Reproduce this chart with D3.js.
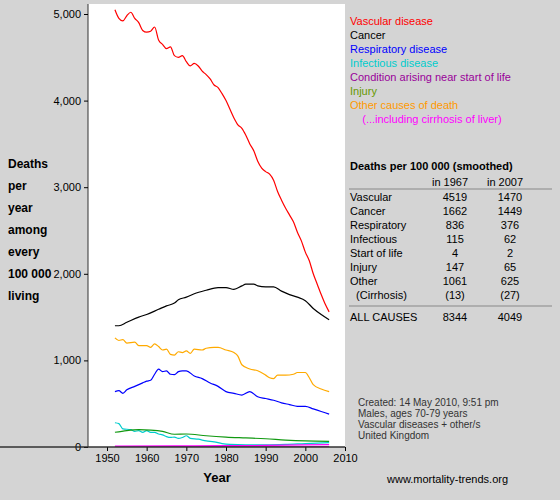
<!DOCTYPE html>
<html><head><meta charset="utf-8">
<script src="https://cdn.jsdelivr.net/npm/d3@7"></script>
<style>body{margin:0;background:#d4d4d4}svg{font-family:"Liberation Sans",Arial,sans-serif}</style>
</head><body><div id="chart"></div>
<script>
// datos (muertes por 100 000)
const vascular = [[1952,5050],[1953,4950],[1954,4920],[1955,4980],[1956,5020],[1957,4950],[1958,4900],[1959,4810],[1960,4790],[1961,4800],[1962,4850],[1963,4700],[1964,4650],[1965,4600],[1966,4620],[1967,4519],[1968,4500],[1969,4520],[1970,4450],[1971,4400],[1972,4430],[1973,4400],[1974,4340],[1975,4300],[1976,4250],[1977,4180],[1978,4150],[1979,4080],[1980,4000],[1981,3900],[1982,3800],[1983,3720],[1984,3680],[1985,3600],[1986,3500],[1987,3420],[1988,3300],[1989,3220],[1990,3180],[1991,3150],[1992,3080],[1993,2950],[1994,2850],[1995,2760],[1996,2680],[1997,2600],[1998,2480],[1999,2380],[2000,2250],[2001,2150],[2002,2000],[2003,1880],[2004,1760],[2005,1650],[2006,1560]];
const cancer = [[1952,1400],[1953,1400],[1955,1440],[1958,1500],[1960,1530],[1963,1590],[1965,1630],[1967,1662],[1968,1700],[1970,1730],[1972,1770],[1975,1810],[1978,1840],[1980,1840],[1982,1820],[1984,1860],[1985,1880],[1987,1880],[1988,1860],[1990,1850],[1992,1850],[1994,1800],[1996,1760],[1998,1730],[2000,1690],[2002,1600],[2004,1530],[2006,1470]];
const other = [[1952,1260],[1953,1230],[1954,1240],[1955,1200],[1957,1210],[1958,1170],[1960,1170],[1961,1150],[1962,1190],[1963,1160],[1964,1120],[1965,1130],[1966,1070],[1967,1061],[1968,1100],[1969,1090],[1970,1110],[1971,1080],[1972,1130],[1974,1120],[1975,1140],[1977,1150],[1978,1150],[1980,1120],[1982,1090],[1983,1050],[1984,950],[1986,900],[1988,880],[1990,830],[1991,800],[1992,790],[1993,830],[1995,830],[1997,840],[1998,860],[2000,860],[2001,800],[2002,720],[2004,670],[2006,640]];
const respiratory = [[1952,640],[1953,650],[1954,620],[1955,660],[1957,700],[1959,740],[1960,760],[1961,770],[1962,840],[1963,900],[1964,870],[1965,880],[1966,840],[1967,836],[1968,870],[1969,880],[1970,880],[1972,820],[1974,790],[1976,740],[1978,700],[1980,640],[1982,620],[1984,600],[1986,640],[1988,580],[1990,560],[1992,540],[1994,510],[1996,490],[1998,470],[2000,470],[2002,440],[2004,410],[2006,380]];
const infectious = [[1952,280],[1953,270],[1954,210],[1956,200],[1957,180],[1958,190],[1959,170],[1960,190],[1961,170],[1962,170],[1963,150],[1964,140],[1965,120],[1966,110],[1967,115],[1968,100],[1969,110],[1970,130],[1971,100],[1973,90],[1975,70],[1977,60],[1979,40],[1981,30],[1985,25],[1990,25],[1995,30],[2000,40],[2006,50]];
const injury = [[1952,170],[1955,190],[1958,200],[1961,195],[1964,180],[1967,147],[1970,150],[1975,130],[1980,115],[1985,105],[1990,95],[1995,80],[2000,70],[2006,65]];
const startLife = [[1952,4],[1967,4],[2006,2]];
const cirrhosis = [[1952,10],[1967,13],[1980,15],[1990,18],[2000,25],[2006,27]];

const series = [
  {name:"Vascular disease", color:"#ff0000", data:vascular},
  {name:"Cancer", color:"#000000", data:cancer},
  {name:"Respiratory disease", color:"#0000ff", data:respiratory},
  {name:"Infectious disease", color:"#00cccc", data:infectious},
  {name:"Condition arising near start of life", color:"#990099", data:startLife},
  {name:"Injury", color:"#669900", data:injury, line:"#119911"},
  {name:"Other causes of death", color:"#ff9900", data:other, line:"#ffaa00"},
  {name:"    (...including cirrhosis of liver)", color:"#ff00ff", data:cirrhosis}
];
const drawOrder = [0,6,1,2,3,5,4,7];

const tabla = [["Vascular","4519","1470"],["Cancer","1662","1449"],["Respiratory","836","376"],["Infectious","115","62"],["Start of life","4","2"],["Injury","147","65"],["Other","1061","625"],["  (Cirrhosis)","(13)","(27)"]];
const totales = ["ALL CAUSES","8344","4049"];
const yLabel = ["Deaths","per","year","among","every","100 000","living"];
const notas = ["Created: 14 May 2010, 9:51 pm","Males, ages 70-79 years","Vascular diseases + other/s","United Kingdom"];

const svg = d3.select("#chart").append("svg").attr("width",560).attr("height",500);

const x = d3.scaleLinear().domain([1950,2010]).range([107,345]);
const y = d3.scaleLinear().domain([0,5000]).range([447,14]);

svg.append("rect").attr("x",88).attr("y",4).attr("width",257).attr("height",443).attr("fill","#fff");

const plot = svg.append("g");
plot.append("clipPath").attr("id","c").append("rect").attr("x",88).attr("y",4).attr("width",257).attr("height",443);
const line = d3.line().x(d=>x(d[0])).y(d=>y(d[1])).curve(d3.curveMonotoneX);
drawOrder.forEach(i=>{
  const s = series[i];
  plot.append("path").attr("clip-path","url(#c)").attr("d",line(s.data))
    .attr("fill","none").attr("stroke",s.line||s.color).attr("stroke-width",1.2);
});

// ejes
const ax = svg.append("g").attr("transform","translate(0,447)")
  .call(d3.axisBottom(x).tickValues(d3.range(1950,2011,10)).tickFormat(d3.format("d")).tickSize(4));
const ay = svg.append("g").attr("transform","translate(88,0)")
  .call(d3.axisLeft(y).tickValues([0,1000,2000,3000,4000,5000]).tickSize(4));
[ax,ay].forEach(a=>{a.selectAll("text").attr("font-size",11).attr("fill","#000");a.select(".domain").attr("stroke","#333");});
ay.select(".domain").attr("d","M0,4V447");
ax.select(".domain").attr("d","M0,0H345");
svg.append("line").attr("x1",0).attr("x2",345).attr("y1",447).attr("y2",447).attr("stroke","#333");

svg.append("text").attr("x",217).attr("y",482).attr("text-anchor","middle").attr("font-weight","bold").attr("font-size",13).text("Year");
yLabel.forEach((t,i)=>svg.append("text").attr("x",8).attr("y",168+i*22).attr("font-weight","bold").attr("font-size",12).text(t));

series.forEach((s,i)=>svg.append("text").attr("x",350).attr("y",25+i*14).attr("fill",s.color)
  .attr("font-size",11).attr("xml:space","preserve").style("white-space","pre").text(s.name));

// tabla
svg.append("text").attr("x",350).attr("y",170).attr("font-weight","bold").attr("font-size",11).text("Deaths per 100 000 (smoothed)");
svg.append("text").attr("x",450).attr("y",186).attr("text-anchor","middle").attr("font-size",11).text("in 1967");
svg.append("text").attr("x",505).attr("y",186).attr("text-anchor","middle").attr("font-size",11).text("in 2007");
svg.append("line").attr("x1",349).attr("x2",552).attr("y1",189).attr("y2",189).attr("stroke","#888");
tabla.forEach((r,i)=>{
  const yy = 201+i*14;
  svg.append("text").attr("x",350).attr("y",yy).attr("font-size",11).style("white-space","pre").text(r[0]);
  svg.append("text").attr("x",455).attr("y",yy).attr("text-anchor","middle").attr("font-size",11).text(r[1]);
  svg.append("text").attr("x",510).attr("y",yy).attr("text-anchor","middle").attr("font-size",11).text(r[2]);
});
svg.append("line").attr("x1",349).attr("x2",552).attr("y1",306).attr("y2",306).attr("stroke","#888");
svg.append("text").attr("x",350).attr("y",321).attr("font-size",11).text(totales[0]);
svg.append("text").attr("x",455).attr("y",321).attr("text-anchor","middle").attr("font-size",11).text(totales[1]);
svg.append("text").attr("x",510).attr("y",321).attr("text-anchor","middle").attr("font-size",11).text(totales[2]);

notas.forEach((t,i)=>svg.append("text").attr("x",358).attr("y",406+i*11).attr("font-size",10).attr("fill","#333").text(t));
svg.append("text").attr("x",387).attr("y",483).attr("font-size",11).text("www.mortality-trends.org");
</script></body></html>
